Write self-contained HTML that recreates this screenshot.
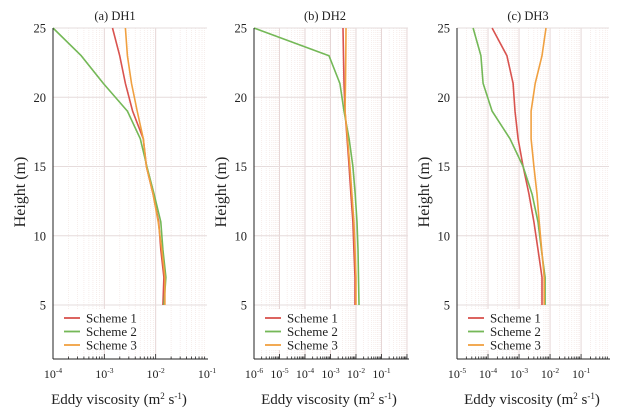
<!DOCTYPE html>
<html><head><meta charset="utf-8"><style>
body{margin:0;background:#fff}
svg{display:block;font-family:"Liberation Serif",serif}
</style></head><body>
<svg id="c" width="628" height="413"></svg>
<script>
const heights=[25,23,21,19,17,15,13,11,9,7,5];
const seriesNames=["Scheme 1","Scheme 2","Scheme 3"];
const colors=["#d9534f","#74b857","#f0a040"];
const panelTitles=["(a) DH1","(b) DH2","(c) DH3"];
const dh1S1=[-2.84,-2.7,-2.59,-2.45,-2.24,-2.18,-2.05,-1.94,-1.9,-1.84,-1.86];
const dh1S2=[-4,-3.45,-3.02,-2.55,-2.3,-2.17,-2.03,-1.9,-1.86,-1.8,-1.84];
const dh1S3=[-2.59,-2.55,-2.47,-2.36,-2.24,-2.18,-2.05,-1.95,-1.88,-1.82,-1.82];
const dh2S1=[-2.51,-2.49,-2.47,-2.43,-2.35,-2.27,-2.2,-2.12,-2.08,-2.04,-2.04];
const dh2S2=[-6,-3.06,-2.63,-2.47,-2.27,-2.12,-2.03,-1.96,-1.92,-1.9,-1.88];
const dh2S3=[-2.39,-2.4,-2.41,-2.43,-2.33,-2.24,-2.16,-2.08,-2.04,-2.0,-2.0];
const dh3S1=[-3.87,-3.39,-3.19,-3.13,-3.03,-2.87,-2.68,-2.52,-2.39,-2.26,-2.26];
const dh3S2=[-4.48,-4.23,-4.16,-3.87,-3.29,-2.87,-2.58,-2.39,-2.28,-2.16,-2.16];
const dh3S3=[-2.13,-2.26,-2.48,-2.61,-2.61,-2.52,-2.42,-2.35,-2.27,-2.19,-2.19];
const yTicks=[5,10,15,20,25];
const xTicks1=[-4,-3,-2,-1];
const xTicks2=[-6,-5,-4,-3,-2,-1];
const xTicks3=[-5,-4,-3,-2,-1];
const panels=[
 {x0:53,x1:207,lmin:-4,lmax:-1,ticks:xTicks1,data:[dh1S1,dh1S2,dh1S3],tx:115,lx:64},
 {x0:254,x1:408,lmin:-6,lmax:0.04,ticks:xTicks2,data:[dh2S1,dh2S2,dh2S3],tx:325,lx:265},
 {x0:457,x1:609,lmin:-5,lmax:-0.1,ticks:xTicks3,data:[dh3S1,dh3S2,dh3S3],tx:528,lx:468}
];
const svg=document.getElementById('c');
const NS='http://www.w3.org/2000/svg';
function mk(t,a,p){const e=document.createElementNS(NS,t);for(const k in a)e.setAttribute(k,a[k]);(p||svg).appendChild(e);return e;}
const yTop=28,yBot=359;
const yS=v=>305-(v-5)*(305-28)/20;
panels.forEach((p,i)=>{
 const g=mk('g',{});
 
 
 const xS=l=>p.x0+(l-p.lmin)/(p.lmax-p.lmin)*(p.x1-p.x0);
 for(let d=Math.floor(p.lmin);d<Math.ceil(p.lmax);d++){
  for(let m=1;m<10;m++){const l=d+Math.log10(m);if(l<p.lmin||l>p.lmax)continue;
   const x=xS(l);mk('line',{x1:x,x2:x,y1:yTop,y2:yBot,stroke:m==1?'#e6d6d6':'#f3e6e3','stroke-width':m==1?1:0.7,'stroke-dasharray':m==1?'':'1,1'},g);}
 }
 yTicks.forEach(v=>{mk('line',{x1:p.x0,x2:p.x1,y1:yS(v),y2:yS(v),stroke:'#e6dcdc','stroke-width':1},g);
  const t=mk('text',{x:p.x0-7,y:yS(v)+4.5,'text-anchor':'end','font-size':12.5,fill:'#222'},g);t.textContent=v;
  });
 p.data.forEach((arr,s)=>{
  const pts=arr.map((l,k)=>xS(l).toFixed(1)+','+yS(heights[k]).toFixed(1)).join(' ');
  const pl=mk('polyline',{points:pts,fill:'none',stroke:colors[s],'stroke-width':1.6},g);
  
  
 });
 const lg=mk('g',{},g);
 
 
 mk('rect',{x:p.x0+1,y:309,width:85,height:41,fill:'#fff'},lg);
 seriesNames.forEach((n,s)=>{const y=318+s*13.5;
  mk('line',{x1:p.lx,x2:p.lx+16,y1:y,y2:y,stroke:colors[s],'stroke-width':1.8},lg);
  const t=mk('text',{x:p.lx+22,y:y+4.5,'font-size':13,fill:'#222'},lg);t.textContent=n;
  });
 mk('line',{x1:p.x0,x2:p.x0,y1:yTop,y2:yBot,stroke:'#222','stroke-width':1},g);
 mk('line',{x1:p.x0,x2:p.x1+1,y1:yBot,y2:yBot,stroke:'#222','stroke-width':1},g);
 for(let d=Math.floor(p.lmin);d<Math.ceil(p.lmax);d++){
  for(let m=1;m<10;m++){const l=d+Math.log10(m);if(l<p.lmin||l>p.lmax)continue;
   const x=xS(l);mk('line',{x1:x,x2:x,y1:yBot,y2:yBot-(m==1?5:2.5),stroke:'#222','stroke-width':0.8},g);}
 }
 p.ticks.forEach(l=>{const t=mk('text',{x:xS(l),y:378,'text-anchor':'middle','font-size':12,fill:'#222'},g);
  t.innerHTML='10<tspan dy="-5" font-size="7.5">'+l+'</tspan>';
  });
 const tt=mk('text',{x:p.tx,y:20,'text-anchor':'middle','font-size':12.5,fill:'#222'},g);tt.textContent=panelTitles[i];
 
 const xt=mk('text',{x:p.tx+4,y:404,'text-anchor':'middle','font-size':15,fill:'#222'},g);
 xt.innerHTML='Eddy viscosity (m<tspan dy="-5" font-size="9">2</tspan><tspan dy="5"> s</tspan><tspan dy="-5" font-size="9">-1</tspan><tspan dy="5">)</tspan>';
 
 const yt=mk('text',{x:0,y:0,'text-anchor':'middle','font-size':16,fill:'#222',transform:'translate('+(p.x0-28)+',192) rotate(-90)'},g);
 yt.textContent='Height (m)';
 
});
</script>
</body></html>
